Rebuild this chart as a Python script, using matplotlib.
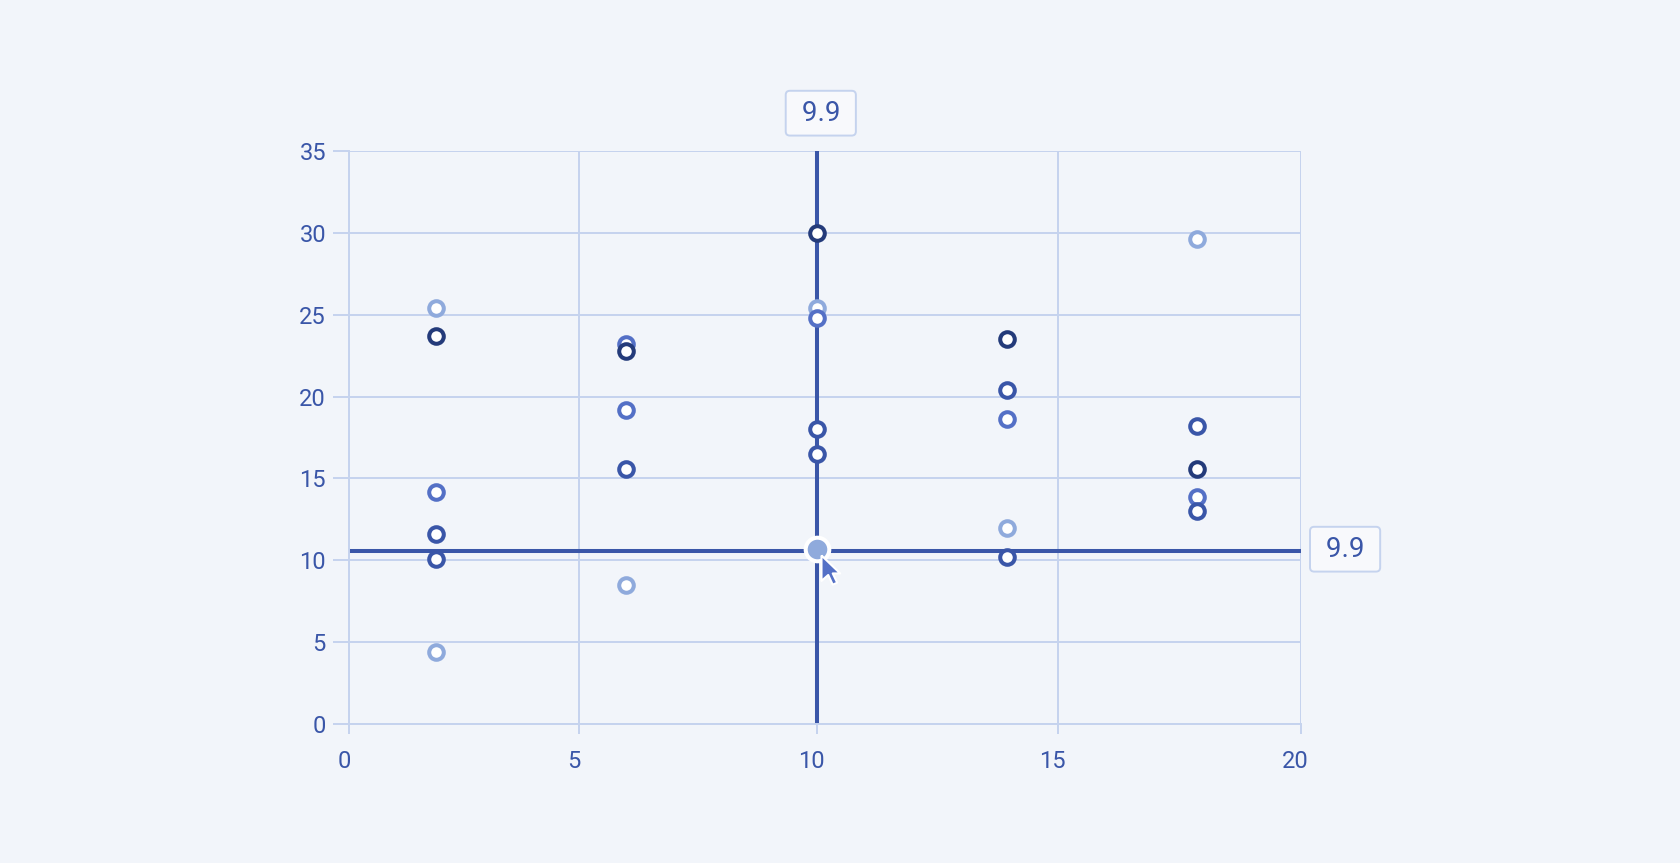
import matplotlib.pyplot as plt
import matplotlib.transforms as mtransforms
import numpy as np

plt.rcParams["font.family"] = ["Roboto", "DejaVu Sans"]

# series data (x, y)
light_x = [1.95, 1.95, 6.0, 10.0, 13.96, 17.88]
light_y = [25.4, 4.4, 8.5, 25.4, 12.0, 29.6]

medium_x = [1.95, 6.0, 6.0, 10.0, 13.96, 17.88]
medium_y = [14.2, 23.2, 19.2, 24.8, 18.6, 13.9]

mid_x = [1.95, 1.95, 6.0, 10.0, 10.0, 13.96, 13.96, 17.88, 17.88]
mid_y = [11.6, 10.1, 15.6, 18.0, 16.5, 20.4, 10.2, 18.2, 13.0]

dark_x = [1.95, 6.0, 10.0, 13.96, 17.88]
dark_y = [23.7, 22.8, 30.0, 23.5, 15.6]

# hovered point and crosshair
hover_x, hover_y = 10.0, 10.7
cross_x, cross_y = 10.0, 10.6
cursor_x, cursor_y = 10.09, 10.33
cross_label = "9.9"

x_ticks = [0, 5, 10, 15, 20]
y_ticks = [0, 5, 10, 15, 20, 25, 30, 35]

BG = "#F2F5FA"
GRID = "#C5D3EE"
TEXT = "#3A56A8"
colors = {"light": "#8FAADC", "medium": "#5470C6", "mid": "#3A56A8", "dark": "#243B7A"}

# the x axis of the source is slightly stretched towards the right
K = 1.025


def fwd(v):
    return np.sign(v) * np.abs(v) ** K


def inv(v):
    return np.sign(v) * np.abs(v) ** (1 / K)


fig = plt.figure(figsize=(16.8, 8.63), dpi=100, facecolor=BG)
ax = fig.add_axes([0.2077, 0.1607, 0.5665, 0.6647])
ax.set_facecolor(BG)

ax.set_xscale("function", functions=(fwd, inv))
ax.set_xlim(0, 20)
ax.set_ylim(0, 35)
ax.set_xticks(x_ticks)
ax.set_xticklabels([str(t) for t in x_ticks])
ax.set_yticks(y_ticks)
ax.minorticks_off()
ax.grid(True, color=GRID, linewidth=1.4, zorder=0)
for side in ["top", "right"]:
    ax.spines[side].set_visible(False)
for side in ["left", "bottom"]:
    ax.spines[side].set_color(GRID)
    ax.spines[side].set_linewidth(1.4)
ax.tick_params(axis="y", length=11.5, width=1.4, color=GRID, labelcolor=TEXT,
               labelsize=17, pad=5)
ax.tick_params(axis="x", length=7, width=1.4, color=GRID, labelcolor=TEXT,
               labelsize=17, pad=11.5)

# x labels sit a few pixels left of their ticks
shift = mtransforms.ScaledTranslation(-5 / 100, 0, fig.dpi_scale_trans)
for lab in ax.get_xticklabels():
    lab.set_transform(lab.get_transform() + shift)

# crosshair
ax.axvline(cross_x, color="#3A56A8", linewidth=2.9, zorder=2)
ax.axhline(cross_y, color="#3A56A8", linewidth=2.9, zorder=2)

# scatter series
for xs, ys, key in [(light_x, light_y, "light"), (medium_x, medium_y, "medium"),
                    (mid_x, mid_y, "mid"), (dark_x, dark_y, "dark")]:
    ax.plot(xs, ys, "o", markersize=10.5, markerfacecolor="white",
            markeredgecolor=colors[key], markeredgewidth=2.9,
            linestyle="none", zorder=3, clip_on=False)

# hovered point
ax.plot([hover_x], [hover_y], "o", markersize=17, markerfacecolor=colors["light"],
        markeredgecolor="white", markeredgewidth=2.9, zorder=4)

# mouse cursor
cursor = [(0, 0), (0, -17), (4.5, -13), (7.5, -19.5), (10.5, -18.2), (7.5, -12),
          (12.5, -12), (0, 0)]
ax.plot([cursor_x], [cursor_y], marker=cursor, markersize=42, markerfacecolor="#5470C6",
        markeredgecolor="white", markeredgewidth=1.5, linestyle="none", zorder=5)

box = dict(boxstyle="round,pad=0.32,rounding_size=0.15", facecolor="#F8F9FC",
           edgecolor=GRID, linewidth=1.4)
ax.annotate(" " + cross_label + " ", xy=(cross_x, 35), xytext=(3, 27),
            textcoords="offset points", ha="center", va="center",
            fontsize=20, color=TEXT, bbox=box, annotation_clip=False)
ax.annotate(" " + cross_label + " ", xy=(20, cross_y), xytext=(32, 1),
            textcoords="offset points", ha="center", va="center",
            fontsize=20, color=TEXT, bbox=box, annotation_clip=False)

fig.savefig("out.png", dpi=100, facecolor=BG)
